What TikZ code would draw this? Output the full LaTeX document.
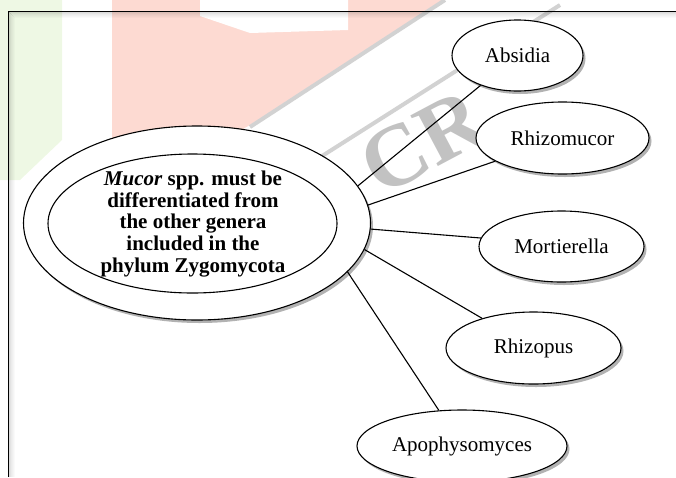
\documentclass[tikz,border=0pt]{standalone}
\usepackage{fontspec}
\setmainfont{Liberation Serif}
\usetikzlibrary{shapes.geometric,shadows}
\definecolor{wmgreen}{HTML}{EEF8E4}
\definecolor{wmpink}{HTML}{FDDAD2}
\definecolor{wmgray}{HTML}{D2D2D2}
\begin{document}
\begin{tikzpicture}[x=1pt,y=-1pt,
  bub/.style={ellipse, draw=black, line width=1.1pt, fill=white, inner sep=0pt,
    font=\fontsize{21}{24}\selectfont,
    drop shadow={shadow xshift=2.5pt, shadow yshift=-3pt, opacity=0.3, fill=black}},
  plainbub/.style={ellipse, draw=black, line width=1.1pt, fill=white, inner sep=0pt},
  conn/.style={draw=black, line width=1.1pt},
  wmletter/.style={text=black!24, rotate=28, inner sep=0pt, font=\bfseries\fontsize{88}{88}\selectfont}]
\useasboundingbox (0,0) rectangle (676,477);
% watermark
\fill[wmgreen] (0,0) -- (62,0) -- (62,140) -- (20,180) -- (0,180) -- cycle;
\fill[wmpink] (112,0) -- (442,0) -- (250,125) -- (180,165) -- (112,165) -- cycle;
\fill[white] (200,0) -- (348,0) -- (348,30) -- (250,33) -- (200,16) -- cycle;
\draw[wmgray, line width=4pt] (445,0) -- (250,127);
\draw[wmgray, line width=4pt] (560,5) -- (300,170);
\node[wmletter] (wcr) at (423,142) {CR};
% frame with soft shadow
\foreach \i/\o in {1/0.14,2/0.11,3/0.08,4/0.06,5/0.04,6/0.02}{
  \draw[black, opacity=\o, line width=1pt] (8+\i,11+\i) -- (676,11+\i);
  \draw[black, opacity=\o, line width=1pt] (8+\i,11+\i) -- (8+\i,477);
}
\draw[line width=1pt] (8,477) -- (8,11) -- (676,11);
% central ellipses
\node[bub, minimum width=347pt, minimum height=194pt] (outer) at (197,223) {};
\node[plainbub, minimum width=289pt, minimum height=139pt] (inner) at (192.5,223.5) {};
\node[align=center, font=\bfseries\fontsize{21}{21.7}\selectfont] (mtext) at (193,224)
  {\textit{Mucor} spp. must be\\ differentiated from\\ the other genera\\ included in the\\ phylum Zygomycota};
% children
\node[bub, minimum width=131pt, minimum height=71pt] (absidia) at (517.5,55.5) {Absidia};
\node[bub, minimum width=173pt, minimum height=72pt] (rhizomucor) at (562.5,138) {Rhizomucor};
\node[bub, minimum width=165pt, minimum height=71pt] (mortierella) at (561.5,246.5) {Mortierella};
\node[bub, minimum width=175pt, minimum height=72pt] (rhizopus) at (533.5,348) {Rhizopus};
\node[bub, minimum width=210pt, minimum height=72pt] (apophy) at (462,446) {Apophysomyces};
% connectors
\draw[conn] (outer.13) -- (absidia.-141);
\draw[conn] (outer.6.6) -- (rhizomucor.199);
\draw[conn] (outer.-2) -- (mortierella.174.7);
\draw[conn] (outer.-9.8) -- (rhizopus.150);
\draw[conn] (outer.-18.5) -- (apophy.123.7);
\end{tikzpicture}
\end{document}
